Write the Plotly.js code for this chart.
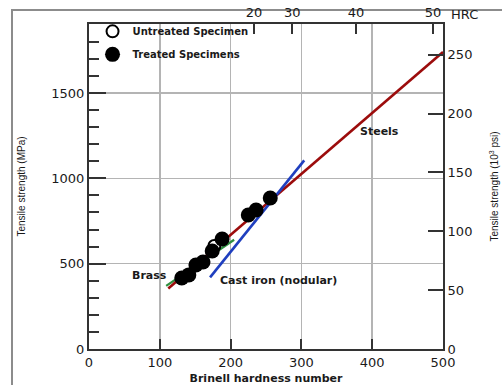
<!DOCTYPE html>
<html>
<head>
<meta charset="utf-8">
<script src="https://cdn.plot.ly/plotly-3.0.1.min.js"></script>
<style>html,body{margin:0;padding:0;background:#fff;}#chart{width:502px;height:385px;}</style>
</head>
<body>
<div id="chart"></div>
<script>
// Lines (Brinell hardness vs tensile strength, MPa)
var steelsHB = [112, 500];
var steelsMPa = [355, 1740];
var castIronHB = [171, 304];
var castIronMPa = [420, 1105];
var brassHB = [109, 205];
var brassMPa = [370, 640];
// Specimens
var treatedHB = [131, 141, 151, 161, 174, 188, 225, 236, 256];
var treatedMPa = [416, 434, 492, 510, 574, 644, 785, 814, 885];
var untreatedHB = [177];
var untreatedMPa = [603];
// Top HRC scale (positions in Brinell units) and labels
var hrcPositionsHB = [233, 287, 377, 486];
var hrcLabels = ['20', '30', '40', '50'];

var MPA_PER_KSI = 6.895;
var yMax = 1904;

var dark = '#1a1a1a';
var axisColor = '#333333';
var gridColor = '#b4b4b4';
var tickFont = {family: 'DejaVu Sans', size: 13, color: dark};

var traces = [
  {x: brassHB, y: brassMPa, mode: 'lines', line: {color: '#2f8f3f', width: 2.2}, showlegend: false, hoverinfo: 'skip'},
  {x: steelsHB, y: steelsMPa, mode: 'lines', line: {color: '#9c0c0c', width: 2.6}, showlegend: false, hoverinfo: 'skip'},
  {x: castIronHB, y: castIronMPa, mode: 'lines', line: {color: '#1f3fbf', width: 2.6}, showlegend: false, hoverinfo: 'skip'},
  {x: untreatedHB, y: untreatedMPa, mode: 'markers', name: 'Untreated Specimen', legendgroup: 'u', legendrank: 1,
   marker: {symbol: 'circle', size: 12, color: '#ffffff', line: {color: '#000', width: 2}}},
  {x: treatedHB, y: treatedMPa, mode: 'markers', name: 'Treated Specimens', legendgroup: 't', legendrank: 2,
   marker: {symbol: 'circle', size: 15, color: '#000000', line: {width: 0}}},
  // right axis carrier (ksi)
  {x: [0], y: [0], yaxis: 'y2', mode: 'markers', marker: {opacity: 0}, showlegend: false, hoverinfo: 'skip'},
  // top axis carrier (HRC)
  {x: [0], y: [0], xaxis: 'x2', mode: 'markers', marker: {opacity: 0}, showlegend: false, hoverinfo: 'skip'}
];

var layout = {
  width: 502, height: 385,
  margin: {l: 89, r: 59, t: 24, b: 36},
  paper_bgcolor: '#ffffff', plot_bgcolor: '#ffffff',
  font: {family: 'DejaVu Sans', color: dark},
  showlegend: true,
  legend: {x: 0.01, y: 1.022, xanchor: 'left', yanchor: 'top', bgcolor: 'rgba(0,0,0,0)',
           traceorder: 'grouped', tracegroupgap: 4,
           font: {family: 'DejaVu Sans', size: 10, weight: 'bold', color: dark}},
  xaxis: {range: [0, 500], dtick: 100, tick0: 0, ticks: 'inside', ticklen: 10, tickwidth: 2, tickcolor: axisColor,
          showline: true, linecolor: axisColor, linewidth: 2, showgrid: true, gridcolor: gridColor, gridwidth: 1.5,
          zeroline: false, tickfont: tickFont,
          title: {text: 'Brinell hardness number', font: {family: 'DejaVu Sans', size: 11, weight: 'bold', color: dark}, standoff: 6}},
  xaxis2: {overlaying: 'x', side: 'top', range: [0, 500], tickmode: 'array', tickvals: hrcPositionsHB, ticktext: hrcLabels,
           ticks: 'inside', ticklen: 10, tickwidth: 2, tickcolor: axisColor, showline: true, linecolor: axisColor, linewidth: 2,
           showgrid: false, zeroline: false, tickfont: tickFont},
  yaxis: {range: [0, yMax], dtick: 500, tick0: 0, ticks: 'inside', ticklen: 17, tickwidth: 2, tickcolor: axisColor,
          minor: {dtick: 100, ticks: 'inside', ticklen: 10, tickwidth: 2, tickcolor: axisColor, showgrid: false},
          showline: true, linecolor: axisColor, linewidth: 2, showgrid: true, gridcolor: gridColor, gridwidth: 1.5,
          zeroline: false, tickfont: tickFont,
          title: {text: 'Tensile strength (MPa)', font: {family: 'Liberation Sans', size: 10, color: dark}, standoff: 24}},
  yaxis2: {overlaying: 'y', side: 'right', range: [0, yMax / MPA_PER_KSI], dtick: 50, tick0: 0, ticks: 'inside', ticklen: 15,
           tickwidth: 2, tickcolor: axisColor, showline: true, linecolor: axisColor, linewidth: 2, showgrid: false,
           zeroline: false, tickfont: tickFont,
           title: {text: 'Tensile strength (10<sup>3</sup> psi)', font: {family: 'Liberation Sans', size: 10, color: dark}, standoff: 20}},
  annotations: [
    {x: 86, y: 428, xref: 'x', yref: 'y', text: 'Brass', showarrow: false, font: {family: 'DejaVu Sans', size: 11, weight: 'bold', color: dark}},
    {x: 267, y: 404, xref: 'x', yref: 'y', text: 'Cast iron (nodular)', showarrow: false, font: {family: 'DejaVu Sans', size: 11, weight: 'bold', color: dark}},
    {x: 410, y: 1273, xref: 'x', yref: 'y', text: 'Steels', showarrow: false, font: {family: 'DejaVu Sans', size: 11, weight: 'bold', color: dark}},
    {x: 1.0, y: 1.0, xref: 'paper', yref: 'paper', xanchor: 'left', yanchor: 'bottom', xshift: 6, yshift: 0, text: 'HRC', showarrow: false,
     font: {family: 'DejaVu Sans', size: 13, color: dark}}
  ],
  shapes: [
    {type: 'rect', xref: 'paper', yref: 'paper', x0: -0.2175, x1: 1.25, y0: -0.25, y1: 1.043,
     line: {color: '#8c8c8c', width: 2}, fillcolor: 'rgba(0,0,0,0)', layer: 'below'}
  ]
};

Plotly.newPlot('chart', traces, layout, {displayModeBar: false, staticPlot: true});
</script>
</body>
</html>
